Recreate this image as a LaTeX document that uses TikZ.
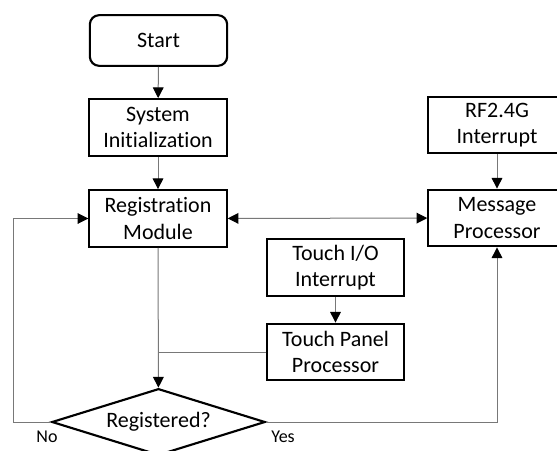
\documentclass[tikz,border=0pt]{standalone}
\usepackage{fontspec}
\setmainfont[Ligatures=NoCommon]{Carlito}
\usepackage{tikz}
\usetikzlibrary{shapes.geometric, arrows.meta, positioning, calc}
\definecolor{linegray}{RGB}{120, 120, 120}
\tikzstyle{process} = [
    rectangle, 
    minimum width=103pt, 
    minimum height=42.5pt, 
    align=center, 
    draw=black, 
    line width=1.6pt,
    font=\fontsize{16.5}{20}\selectfont
]
\tikzstyle{startbox} = [
    process, 
    rounded corners=7pt, 
    minimum height=38pt
]
\tikzstyle{decision} = [
    diamond, 
    aspect=3.2, 
    inner sep=0pt, 
    minimum width=160pt, 
    minimum height=50pt, 
    draw=black, 
    line width=1.6pt,
    font=\fontsize{16.5}{20}\selectfont
]
\tikzstyle{label} = [
    font=\fontsize{13.5}{15}\selectfont
]
\tikzstyle{arrow} = [
    line width=0.75pt, 
    color=linegray, 
    -{Triangle[length=8pt, width=8pt, color=black]}
]
\tikzstyle{wire} = [
    line width=0.75pt, 
    color=linegray
]

\begin{document}
\begin{tikzpicture}[x=0.75pt, y=-0.75pt]
        \useasboundingbox (0, 0) rectangle (557, 450);
        \clip (0, 0) rectangle (557, 450);
        % Nodes
        \node[startbox] (start) at (158.5, 40.5) {Start};
        \node[process] (init) at (158, 127.5) {System\\Initialization};
        \node[process] (reg) at (158, 218.5) {Registration\\Module};
        \node[process] (rf) at (497, 125) {RF2.4G\\Interrupt};
        \node[process] (msg) at (497, 218) {Message\\Processor};
        \node[process] (tio) at (335.5, 267.5) {Touch I/O\\Interrupt};
        \node[process] (tpp) at (335.5, 352) {Touch Panel\\Processor};
        \node[decision] (isreg) at (158.5, 422) {Registered?};
        \node[label] (no) at (47, 437) {No};
        \node[label] (yes) at (283, 437) {Yes};
        
        % Main flow
        \draw[arrow] (start) -- (init);
        \draw[arrow] (init) -- (reg);
        \draw[arrow] (reg) -- (isreg);
        \draw[arrow] (rf) -- (msg);
        \draw[arrow] (tio) -- (tpp);
        \draw[arrow, {Triangle[length=8pt, width=8pt, color=black]}-{Triangle[length=8pt, width=8pt, color=black]}] (reg) -- (msg);
        \draw[wire] (tpp.west) -- (tpp.west -| reg.south);
        
        % Decision branches
        \draw[arrow] (isreg.west) -- ++(-37, 0) |- (reg.west);
        \draw[arrow] (isreg.east) -| (msg.south);
    \end{tikzpicture}
\end{document}
